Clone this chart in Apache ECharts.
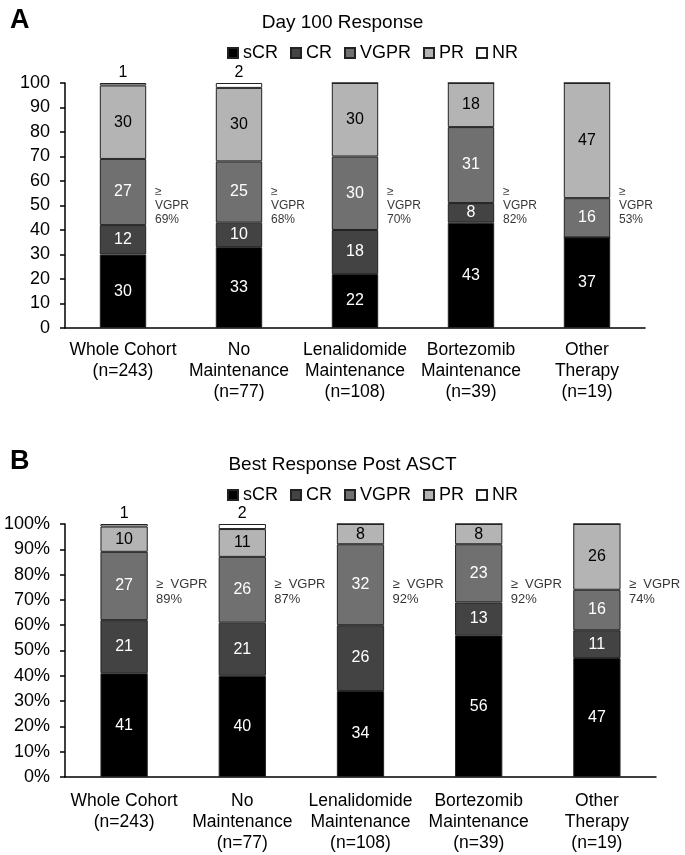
<!DOCTYPE html>
<html>
<head>
<meta charset="utf-8">
<script src="https://cdn.jsdelivr.net/npm/echarts@6/dist/echarts.min.js"></script>
<style>
  html, body { margin: 0; padding: 0; background: #fff; }
  #chartId { width: 685px; height: 855px; }
</style>
</head>
<body>
<div id="chartId"></div>
<script>
// categories (shared by both panels)
var categories = [
  'Whole Cohort\n(n=243)',
  'No\nMaintenance\n(n=77)',
  'Lenalidomide\nMaintenance\n(n=108)',
  'Bortezomib\nMaintenance\n(n=39)',
  'Other\nTherapy\n(n=19)'
]
var responseNames = ['sCR', 'CR', 'VGPR', 'PR', 'NR']

// A: Day 100 response (%)
var day100SCR = [30, 33, 22, 43, 37]
var day100CR = [12, 10, 18, 8, 0]
var day100VGPR = [27, 25, 30, 31, 16]
var day100PR = [30, 30, 30, 18, 47]
var day100NR = [1, 2, 0, 0, 0]
var day100AtLeastVGPR = [69, 68, 70, 82, 53]

// B: best response post ASCT (%)
var bestSCR = [41, 40, 34, 56, 47]
var bestCR = [21, 21, 26, 13, 11]
var bestVGPR = [27, 26, 32, 23, 16]
var bestPR = [10, 11, 8, 8, 26]
var bestNR = [1, 2, 0, 0, 0]
var bestAtLeastVGPR = [89, 87, 92, 92, 74]

var FONT = 'Liberation Sans, Arial, sans-serif'
var fills = ['#000000', '#434343', '#707070', '#b4b4b4', '#ffffff']
var labelColors = ['#fff', '#fff', '#fff', '#000', '#000']

function barSeries(gridIdx, values) {
  return responseNames.map(function (name, k) {
    return {
      name: name,
      type: 'bar',
      stack: 'panel' + gridIdx,
      xAxisIndex: gridIdx,
      yAxisIndex: gridIdx,
      barWidth: '40%',
      data: values[k],
      itemStyle: { color: fills[k], borderColor: '#222', borderWidth: 1 },
      label: {
        show: true,
        position: name === 'NR' ? 'top' : 'inside',
        distance: 2,
        color: labelColors[k],
        fontSize: 16,
        fontFamily: FONT,
        formatter: function (p) { return p.value > 0 ? p.value : '' }
      },
      silent: true,
      animation: false
    }
  })
}

// "≥ VGPR xx%" notes to the right of each bar
function noteSeries(gridIdx, pct, yPos, twoLines) {
  return {
    type: 'scatter',
    xAxisIndex: gridIdx,
    yAxisIndex: gridIdx,
    symbolSize: 0,
    silent: true,
    animation: false,
    data: pct.map(function (v, i) { return [i, yPos] }),
    label: {
      show: true,
      position: 'right',
      distance: 32,
      align: 'left',
      color: '#000',
      fontFamily: FONT,
      fontSize: twoLines ? 13 : 12,
      lineHeight: twoLines ? 15 : 14,
      formatter: function (p) {
        return twoLines ? '\u2265  VGPR\n' + pct[p.dataIndex] + '%'
                        : '\u2265\nVGPR\n' + pct[p.dataIndex] + '%'
      }
    }
  }
}

function yAxis(gridIdx, pctSuffix) {
  return {
    type: 'value',
    gridIndex: gridIdx,
    min: 0,
    max: 100,
    interval: 10,
    axisLine: { show: true, lineStyle: { color: '#000', width: 1.5 } },
    axisTick: { show: true, length: 5, lineStyle: { color: '#000', width: 1.5 } },
    splitLine: { show: false },
    axisLabel: {
      color: '#000', fontSize: 18, fontFamily: FONT, margin: 15,
      formatter: pctSuffix ? '{value}%' : '{value}'
    }
  }
}

function xAxis(gridIdx) {
  return {
    type: 'category',
    gridIndex: gridIdx,
    data: categories,
    axisLine: { show: true, lineStyle: { color: '#000', width: 1.5 } },
    axisTick: { show: false },
    axisLabel: {
      color: '#000', fontSize: 17.5, fontFamily: FONT, lineHeight: 21,
      interval: 0, margin: gridIdx ? 14 : 12
    }
  }
}

var legendBase = {
  data: responseNames,
  icon: 'rect',
  itemWidth: 10,
  itemHeight: 10,
  itemGap: 12,
  left: 222,
  textStyle: { color: '#000', fontSize: 18, fontFamily: FONT },
  selectedMode: false
}

var myChart = echarts.init(document.getElementById('chartId'))
myChart.setOption({
  backgroundColor: '#fff',
  title: [
    { text: 'A', left: 5, top: 2, textStyle: { fontSize: 27, fontWeight: 'bold', fontFamily: FONT, color: '#000' } },
    { text: 'Day 100 Response', left: 'center', top: 8, textStyle: { fontSize: 19, fontWeight: 'normal', fontFamily: FONT, color: '#000' } },
    { text: 'B', left: 5, top: 443, textStyle: { fontSize: 27, fontWeight: 'bold', fontFamily: FONT, color: '#000' } },
    { text: 'Best Response Post ASCT', left: 'center', top: 450, textStyle: { fontSize: 19, fontWeight: 'normal', fontFamily: FONT, color: '#000' } }
  ],
  legend: [
    Object.assign({}, legendBase, { top: 39 }),
    Object.assign({}, legendBase, { top: 481 })
  ],
  grid: [
    { left: 65, width: 580, top: 83, height: 245 },
    { left: 65, width: 591, top: 524, height: 253 }
  ],
  xAxis: [xAxis(0), xAxis(1)],
  yAxis: [yAxis(0, false), yAxis(1, true)],
  series: []
    .concat(barSeries(0, [day100SCR, day100CR, day100VGPR, day100PR, day100NR]))
    .concat(barSeries(1, [bestSCR, bestCR, bestVGPR, bestPR, bestNR]))
    .concat([noteSeries(0, day100AtLeastVGPR, 50, false), noteSeries(1, bestAtLeastVGPR, 73, true)])
})
</script>
</body>
</html>
